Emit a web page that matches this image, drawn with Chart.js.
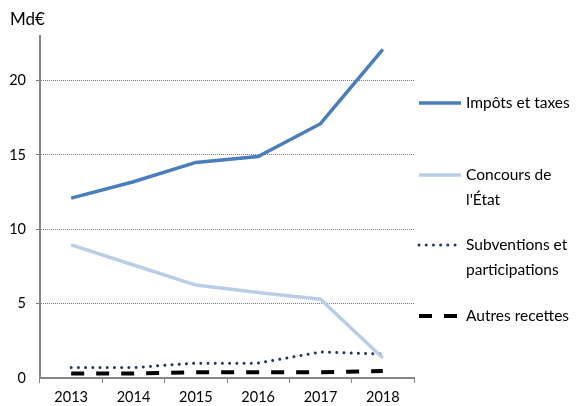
<!DOCTYPE html>
<html>
<head>
<meta charset="utf-8">
<script src="https://cdn.jsdelivr.net/npm/chart.js@4.4.1/dist/chart.umd.min.js"></script>
<style>
  html, body { margin: 0; padding: 0; background: #fff; }
  #wrap { width: 581px; height: 406px; }
</style>
</head>
<body>
<div id="wrap"><canvas id="recettes" width="581" height="406"></canvas></div>
<script>
  "use strict";
  var years = ['2013', '2014', '2015', '2016', '2017', '2018'];
  var impots = [12.1, 13.2, 14.5, 14.9, 17.1, 22.1];
  var concours = [8.95, 7.6, 6.25, 5.75, 5.3, 1.35];
  var subventions = [0.7, 0.7, 1.0, 1.0, 1.75, 1.6];
  var autres = [0.3, 0.3, 0.38, 0.38, 0.38, 0.47];
  var legendLines = [['Impôts et taxes'], ['Concours de', "l'État"], ['Subventions et', 'participations'], ['Autres recettes']];
  var yTicks = [0, 5, 10, 15, 20];
  var unit = 'Md€';

  var font = "Lato, 'Open Sans', sans-serif";
  var axisGray = '#868686';

  // légende à droite, avec retour à la ligne
  var sideLegend = {
    id: 'sideLegend',
    afterDraw: function (chart) {
      var ctx = chart.ctx;
      var area = chart.chartArea;
      var rows = [103, 175, 245, 316];
      ctx.save();
      ctx.font = '15.5px ' + font;
      ctx.fillStyle = '#000';
      ctx.textBaseline = 'middle';
      chart.data.datasets.forEach(function (ds, i) {
        var y = rows[i];
        ctx.beginPath();
        ctx.lineWidth = ds.borderWidth;
        ctx.strokeStyle = ds.borderColor;
        ctx.lineCap = ds.borderCapStyle || 'butt';
        ctx.setLineDash(ds.borderDash || []);
        ctx.moveTo(area.right + 5, y);
        ctx.lineTo(area.right + 47, y);
        ctx.stroke();
        ctx.setLineDash([]);
        legendLines[i].forEach(function (t, j) {
          ctx.fillText(t, area.right + 52, y + j * 25);
        });
      });
      // unité en haut à gauche
      ctx.textBaseline = 'alphabetic';
      ctx.font = '17px ' + font;
      ctx.fillText(unit, 10, 25);
      ctx.restore();
    }
  };

  var ctx1 = document.getElementById('recettes').getContext('2d');
  new Chart(ctx1, {
    type: 'line',
    data: {
      labels: years,
      datasets: [{
        label: legendLines[0].join(' '),
        data: impots,
        borderColor: '#4A7EBB',
        borderWidth: 3.5,
        pointRadius: 0,
        tension: 0
      },
      {
        label: legendLines[1].join(' '),
        data: concours,
        borderColor: '#B9CDE5',
        borderWidth: 3.5,
        pointRadius: 0,
        tension: 0
      },
      {
        label: legendLines[2].join(' '),
        data: subventions,
        borderColor: '#1F3864',
        borderWidth: 3,
        borderCapStyle: 'round',
        borderDash: [0.01, 7.2],
        pointRadius: 0,
        tension: 0
      },
      {
        label: legendLines[3].join(' '),
        data: autres,
        borderColor: '#000000',
        borderWidth: 4,
        borderDash: [13, 12],
        pointRadius: 0,
        tension: 0
      }]
    },
    options: {
      responsive: false,
      animation: false,
      layout: { padding: { top: 36, right: 167, bottom: 0, left: 0 } },
      plugins: {
        legend: { display: false },
        tooltip: { enabled: false }
      },
      scales: {
        x: {
          offset: true,
          grid: {
            offset: true,
            display: true,
            drawOnChartArea: false,
            drawTicks: true,
            tickLength: 5,
            color: axisGray
          },
          border: { display: true, color: axisGray, width: 2 },
          ticks: {
            color: '#000',
            padding: 6,
            font: { family: font, size: 14.5 }
          },
          afterFit: function (scale) { scale.height = 28; }
        },
        y: {
          min: 0,
          max: 23,
          afterBuildTicks: function (scale) {
            scale.ticks = yTicks.map(function (v) { return { value: v }; });
          },
          grid: {
            drawTicks: true,
            tickLength: 4,
            lineWidth: 1,
            color: function (c) { return c.tick && c.tick.value === 0 ? 'rgba(0,0,0,0)' : '#7a7a7a'; }
          },
          border: { display: true, color: axisGray, width: 2, dash: [1, 1] },
          ticks: {
            color: '#000',
            padding: 10,
            font: { family: font, size: 14.5 }
          },
          afterFit: function (scale) { scale.width = 40; }
        }
      }
    },
    plugins: [sideLegend]
  });
</script>
</body>
</html>
